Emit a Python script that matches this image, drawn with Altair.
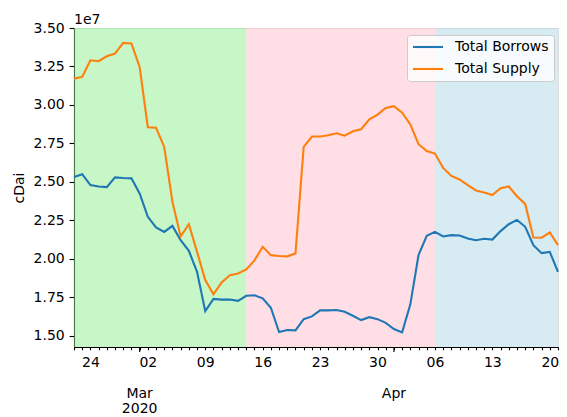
import altair as alt
import pandas as pd

# ---- data (cDai, units of 1e7) ----
start_date = "2020-02-22"
n_days = 60
borrows_e7 = [2.531, 2.550, 2.479, 2.470, 2.466, 2.529, 2.525, 2.523, 2.425, 2.273,
              2.204, 2.175, 2.214, 2.121, 2.052, 1.916, 1.660, 1.740, 1.735, 1.736,
              1.727, 1.760, 1.763, 1.743, 1.682, 1.524, 1.537, 1.535, 1.608, 1.626,
              1.665, 1.665, 1.667, 1.656, 1.630, 1.602, 1.621, 1.608, 1.584, 1.544,
              1.522, 1.704, 2.024, 2.149, 2.175, 2.145, 2.154, 2.152, 2.132, 2.121,
              2.130, 2.125, 2.180, 2.225, 2.253, 2.208, 2.089, 2.037, 2.045, 1.915]
supply_e7 = [3.171, 3.182, 3.290, 3.284, 3.316, 3.334, 3.403, 3.400, 3.247, 2.855,
             2.852, 2.727, 2.370, 2.145, 2.225, 2.045, 1.862, 1.769, 1.847, 1.894,
             1.905, 1.931, 1.990, 2.078, 2.024, 2.018, 2.016, 2.035, 2.727, 2.795,
             2.795, 2.803, 2.816, 2.800, 2.829, 2.842, 2.907, 2.937, 2.981, 2.992,
             2.950, 2.873, 2.745, 2.700, 2.684, 2.591, 2.539, 2.516, 2.479, 2.444,
             2.431, 2.414, 2.459, 2.470, 2.407, 2.357, 2.139, 2.137, 2.171, 2.089]
series_names = ["Total Borrows", "Total Supply"]
series_colors = ["#1f77b4", "#ff7f0e"]

span_starts = ["2020-02-22", "2020-03-14", "2020-04-06"]
span_ends = ["2020-03-14", "2020-04-06", "2020-04-21"]
span_colors = ["#90ee90", "#ffc0cb", "#add8e6"]

month_dates = ["2020-03-01", "2020-04-01"]
month_labels = ["Mar\n2020", "Apr"]

y_ticks_e7 = [1.50, 1.75, 2.00, 2.25, 2.50, 2.75, 3.00, 3.25, 3.50]
y_min_e7, y_max_e7 = 1.427, 3.50

# ---- tables ----
dates = pd.date_range(start_date, periods=n_days).strftime("%Y-%m-%d").tolist()
df = pd.DataFrame({
    "date": dates * 2,
    "series": [series_names[0]] * n_days + [series_names[1]] * n_days,
    "value": [v * 1e7 for v in borrows_e7] + [v * 1e7 for v in supply_e7],
})
spans = pd.DataFrame({"start": span_starts, "end": span_ends, "color": span_colors})
months = pd.DataFrame({"date": month_dates, "label": month_labels})
offset_df = pd.DataFrame({"t": ["1e7"]})

W, H = 484, 319
FONT = "DejaVu Sans"
FS = 14

def dt(s):
    y, m, d = [int(p) for p in s.split("-")]
    return alt.DateTime(year=y, month=m, date=d, utc=True)

xscale = alt.Scale(type="utc", domain=[dt(dates[0]), dt(dates[-1])], nice=False)
yscale = alt.Scale(domain=[y_min_e7 * 1e7, y_max_e7 * 1e7], nice=False, zero=False)

xaxis = alt.Axis(
    values=[dt(d) for d in dates],
    labelExpr="utcday(datum.value) == 1 ? utcFormat(datum.value, '%d') : ''",
    tickSize=2.8, labelPadding=5.4, labelOverlap=False, labelFlush=False,
    labelBound=False, grid=False, title=None, domainColor="black",
    tickColor="black", labelColor="black", labelFont=FONT, labelFontSize=FS,
    domainWidth=1.1, tickWidth=1.1,
)
yaxis = alt.Axis(
    values=[v * 1e7 for v in y_ticks_e7],
    labelExpr="format(datum.value / 1e7, '.2f')",
    tickSize=4.9, labelPadding=4.9, grid=False, title="cDai",
    titleX=-55, titleY=H / 2, titleAngle=270, titleAlign="center",
    titleBaseline="middle", titleFont=FONT, titleFontSize=FS,
    titleFontWeight="normal", titleColor="black",
    domainColor="black", tickColor="black", labelColor="black",
    labelFont=FONT, labelFontSize=FS, domainWidth=1.1, tickWidth=1.1,
)

bg = alt.Chart(spans).mark_rect(opacity=0.5).encode(
    x=alt.X("start:T", scale=xscale, axis=xaxis),
    x2="end:T",
    y=alt.value(0),
    y2=alt.value(H),
    fill=alt.Fill("color:N", scale=None, legend=None),
)

lines = alt.Chart(df).mark_line(strokeWidth=2.1).encode(
    x=alt.X("date:T", scale=xscale, axis=xaxis),
    y=alt.Y("value:Q", scale=yscale, axis=yaxis),
    color=alt.Color(
        "series:N",
        scale=alt.Scale(domain=series_names, range=series_colors),
        legend=alt.Legend(
            title=None, orient="none", legendX=333, legendY=7,
            symbolType="M-3,0H3", symbolSize=100, symbolStrokeWidth=2.1,
            symbolOffset=9, labelOffset=20, rowPadding=8, padding=5,
            labelFont=FONT, labelFontSize=FS, labelColor="black",
            fillColor="rgba(255,255,255,0.8)", strokeColor="#cccccc",
            cornerRadius=3,
        ),
    ),
)

month_ticks = alt.Chart(months).mark_rule(color="black", strokeWidth=1.1).encode(
    x=alt.X("date:T", scale=xscale, axis=xaxis),
    y=alt.value(H),
    y2=alt.value(H + 4.9),
)

month_text = alt.Chart(months).mark_text(
    align="center", baseline="top", font=FONT, fontSize=FS, lineBreak="\n",
    lineHeight=15, color="black",
).encode(
    x=alt.X("date:T", scale=xscale, axis=xaxis),
    y=alt.value(H + 40),
    text="label:N",
)

offset_text = alt.Chart(offset_df).mark_text(
    align="left", baseline="alphabetic", font=FONT, fontSize=FS, color="black",
).encode(x=alt.value(0), y=alt.value(-4), text="t:N")

chart = alt.layer(bg, lines, month_ticks, month_text, offset_text).properties(
    width=W, height=H,
    autosize=alt.AutoSizeParams(type="none"),
    padding={"left": 66, "top": 20, "right": 1, "bottom": 70},
).configure_view(stroke="black", strokeWidth=1.1).configure(background="white")

chart.save("out.html", embed_options={"renderer": "svg", "actions": False})
